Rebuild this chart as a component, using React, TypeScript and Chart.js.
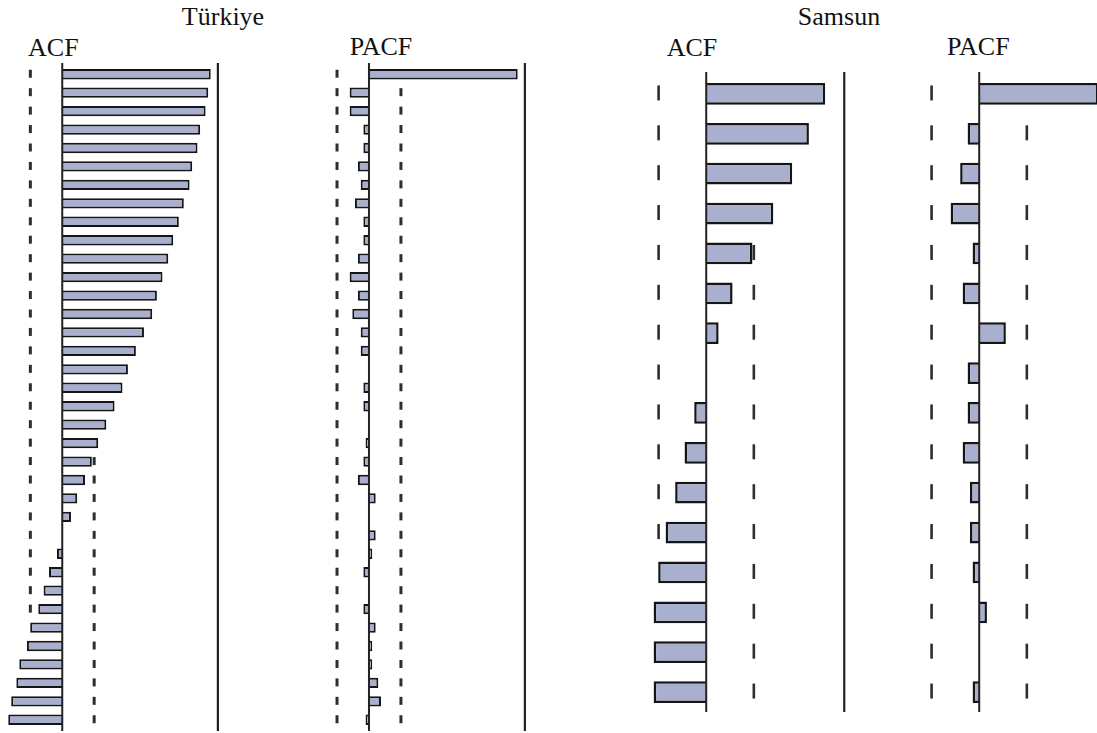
import React, { useEffect, useRef } from "react";
import { Chart, registerables } from "chart.js";

Chart.register(...registerables);

// ---------- data ----------
const turkiyeLags = [
  "1", "2", "3", "4", "5", "6", "7", "8", "9", "10", "11", "12",
  "13", "14", "15", "16", "17", "18", "19", "20", "21", "22", "23", "24",
  "25", "26", "27", "28", "29", "30", "31", "32", "33", "34", "35", "36",
];
const samsunLags = [
  "1", "2", "3", "4", "5", "6", "7", "8", "9", "10", "11", "12", "13", "14", "15", "16",
];

const turkiyeACF = [
  0.954, 0.938, 0.921, 0.886, 0.869, 0.835, 0.818, 0.781, 0.749, 0.713, 0.681, 0.644,
  0.608, 0.578, 0.525, 0.473, 0.422, 0.387, 0.336, 0.283, 0.231, 0.19, 0.146, 0.096,
  0.056, 0, -0.034, -0.085, -0.12, -0.154, -0.206, -0.227, -0.276, -0.295, -0.328, -0.347,
];
const turkiyePACF = [
  0.954, -0.124, -0.124, -0.036, -0.036, -0.071, -0.053, -0.09, -0.036, -0.036, -0.071, -0.124,
  -0.071, -0.107, -0.053, -0.053, 0, -0.036, -0.036, 0, -0.022, -0.036, -0.071, 0.043,
  0, 0.043, 0.021, -0.036, 0, -0.036, 0.043, 0.021, 0.021, 0.06, 0.077, -0.022,
];
const samsunACF = [
  0.862, 0.744, 0.623, 0.486, 0.335, 0.191, 0.09, 0, -0.087, -0.157, -0.225, -0.294,
  -0.348, -0.381, -0.381, -0.381,
];
const samsunPACF = [
  0.862, -0.084, -0.138, -0.207, -0.048, -0.12, 0.193, -0.084, -0.084, -0.12, -0.067, -0.067,
  -0.048, 0.056, 0, -0.048,
];

const turkiyeLimit = 0.205;
const samsunLimit = 0.345;

// ---------- styles ----------
const BAR_FILL = "#a9b0cf";
const BAR_BORDER = "#151515";
const LINE_COLOR = "#222222";
const DASH_COLOR = "#2e2e2e";
const FONT = '"Liberation Serif", "Times New Roman", serif';

const guidePlugin = {
  id: "acfGuides",
  beforeDatasetsDraw(chart: any, _args: any, opts: any) {
    const xs = chart.scales.x;
    const ys = chart.scales.y;
    const ctx = chart.ctx as CanvasRenderingContext2D;
    const vals: number[] = chart.data.datasets[0].data;
    const n = chart.data.labels.length;
    ctx.save();
    ctx.strokeStyle = DASH_COLOR;
    ctx.lineWidth = opts.dashWidth;
    for (let i = 0; i < n; i++) {
      const cy = ys.getPixelForValue(i) + opts.dashShift;
      const val = vals[i];
      for (const v of [-opts.limit, opts.limit]) {
        // a bar that reaches past the limit hides its dash
        if ((v > 0 && val >= v) || (v < 0 && val <= v)) continue;
        const px = xs.getPixelForValue(v);
        ctx.beginPath();
        ctx.moveTo(px, cy - opts.dashHeight / 2);
        ctx.lineTo(px, cy + opts.dashHeight / 2);
        ctx.stroke();
      }
    }
    ctx.restore();
  },
  afterDatasetsDraw(chart: any, _args: any, opts: any) {
    const xs = chart.scales.x;
    const { top, bottom } = chart.chartArea;
    const ctx = chart.ctx as CanvasRenderingContext2D;
    ctx.save();
    ctx.strokeStyle = LINE_COLOR;
    for (const v of [0, 1]) {
      const px = xs.getPixelForValue(v);
      ctx.lineWidth = v === 0 ? 2 : 2.2;
      ctx.beginPath();
      ctx.moveTo(px, top - opts.extendTop);
      ctx.lineTo(px, bottom + opts.extendBottom);
      ctx.stroke();
    }
    ctx.restore();
  },
};

type PanelProps = {
  labels: string[];
  values: number[];
  limit: number;
  min: number;
  max: number;
  pxPerUnit: number;
  zeroX: number;
  areaTop: number;
  areaHeight: number;
  barPercentage: number;
  borderWidth: number;
  dashHeight: number;
  dashWidth: number;
  dashShift: number;
  extendTop: number;
  extendBottom: number;
};

const PAD = 6;

function Panel(p: PanelProps) {
  const ref = useRef<HTMLCanvasElement | null>(null);
  const W = Math.round((p.max - p.min) * p.pxPerUnit);
  const k = W / (p.max - p.min);
  const left = p.zeroX + p.min * k;
  const H = Math.round(p.areaHeight) + 2 * PAD;
  const top = p.areaTop - PAD;

  useEffect(() => {
    if (!ref.current) return;
    const chart = new Chart(ref.current, {
      type: "bar",
      data: {
        labels: p.labels,
        datasets: [
          {
            data: p.values,
            backgroundColor: BAR_FILL,
            borderColor: BAR_BORDER,
            borderWidth: p.borderWidth,
            borderSkipped: "start",
            barPercentage: p.barPercentage,
            categoryPercentage: 1,
          },
        ],
      },
      options: {
        indexAxis: "y",
        animation: false,
        responsive: false,
        devicePixelRatio: 1,
        layout: { padding: { top: PAD, bottom: PAD, left: 0, right: 0 } },
        scales: {
          x: { type: "linear", min: p.min, max: p.max, display: false },
          y: { type: "category", display: false, offset: true },
        },
        plugins: {
          legend: { display: false },
          tooltip: { enabled: false },
          title: { display: false },
          acfGuides: {
            limit: p.limit,
            dashHeight: p.dashHeight,
            dashWidth: p.dashWidth,
            dashShift: p.dashShift,
            extendTop: p.extendTop,
            extendBottom: p.extendBottom,
          },
        } as any,
      },
      plugins: [guidePlugin as any],
    });
    return () => chart.destroy();
  }, []);

  return (
    <canvas
      ref={ref}
      width={W}
      height={H}
      style={{ position: "absolute", left, top, width: W, height: H }}
    />
  );
}

function Label({ text, cx, baseline }: { text: string; cx: number; baseline: number }) {
  const size = 26;
  return (
    <div
      style={{
        position: "absolute",
        left: cx,
        top: baseline - 21.8,
        transform: "translateX(-50%)",
        fontFamily: FONT,
        fontSize: size,
        lineHeight: `${size}px`,
        whiteSpace: "nowrap",
        color: "#111",
      }}
    >
      {text}
    </div>
  );
}

export default function App() {
  return (
    <div
      style={{
        position: "absolute",
        left: 0,
        top: 0,
        width: 1097,
        height: 733,
        overflow: "hidden",
        background: "#fff",
      }}
    >
      <Label text="Türkiye" cx={223} baseline={25.5} />
      <Label text="ACF" cx={53.3} baseline={57} />
      <Label text="PACF" cx={381} baseline={55.5} />
      <Label text="Samsun" cx={839} baseline={26} />
      <Label text="ACF" cx={692} baseline={57} />
      <Label text="PACF" cx={978.3} baseline={55.5} />

      <Panel
        labels={turkiyeLags}
        values={turkiyeACF}
        limit={turkiyeLimit}
        min={-0.4}
        max={1.02}
        pxPerUnit={155.7}
        zeroX={62}
        areaTop={64.9}
        areaHeight={664.4}
        barPercentage={0.56}
        borderWidth={2}
        dashHeight={8}
        dashWidth={3}
        dashShift={-0.5}
        extendTop={2}
        extendBottom={2}
      />
      <Panel
        labels={turkiyeLags}
        values={turkiyePACF}
        limit={turkiyeLimit}
        min={-0.25}
        max={1.02}
        pxPerUnit={155.7}
        zeroX={369.3}
        areaTop={64.9}
        areaHeight={664.4}
        barPercentage={0.56}
        borderWidth={2}
        dashHeight={8}
        dashWidth={3}
        dashShift={-0.5}
        extendTop={2}
        extendBottom={2}
      />
      <Panel
        labels={samsunLags}
        values={samsunACF}
        limit={samsunLimit}
        min={-0.4}
        max={1.02}
        pxPerUnit={138}
        zeroX={706.3}
        areaTop={74.3}
        areaHeight={637.6}
        barPercentage={0.545}
        borderWidth={2.5}
        dashHeight={15}
        dashWidth={2.6}
        dashShift={-1}
        extendTop={2}
        extendBottom={0}
      />
      <Panel
        labels={samsunLags}
        values={samsunPACF}
        limit={samsunLimit}
        min={-0.4}
        max={1.02}
        pxPerUnit={138}
        zeroX={979.3}
        areaTop={74.3}
        areaHeight={637.6}
        barPercentage={0.545}
        borderWidth={2.5}
        dashHeight={15}
        dashWidth={2.6}
        dashShift={-1}
        extendTop={2}
        extendBottom={0}
      />
    </div>
  );
}
